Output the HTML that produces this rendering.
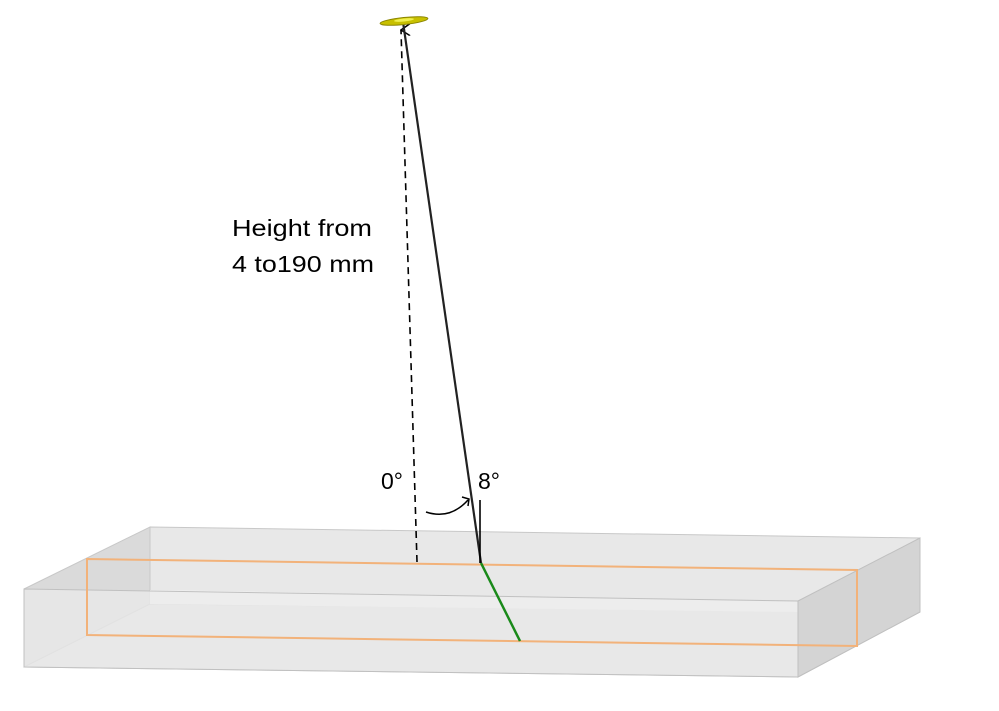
<!DOCTYPE html>
<html><head><style>body{margin:0;background:#fff;width:999px;height:711px;overflow:hidden}svg{display:block}</style></head><body>
<svg width="999" height="711" viewBox="0 0 999 711" xmlns="http://www.w3.org/2000/svg">
<defs><marker id="ah" markerWidth="12" markerHeight="12" refX="6" refY="1" orient="auto" markerUnits="userSpaceOnUse"><path d="M0,10 L6,1 L12,10" fill="none" stroke="#000" stroke-width="1.5"/></marker></defs>
<polygon points="150,527 920,538 920,612 150,604" fill="#e8e8e8" stroke="#c8c8c8"/>
<polygon points="24,589 150,527 150,604 24,667" fill="#dadada" stroke="#c8c8c8"/>
<polygon points="24,667 150,604 920,612 798,677" fill="#e4e4e4" stroke="#c8c8c8"/>
<polygon points="150,590 798,601 798,612 150,604" fill="#f6f6f6"/>
<polygon points="24,589 798,601 798,677 24,667" fill="#e9e9e9" fill-opacity="0.75" stroke="#c0c0c0"/>
<polygon points="798,601 920,538 920,612 798,677" fill="#d4d4d4" stroke="#c0c0c0"/>
<polygon points="87,559 857,570 857,646 87,635" fill="none" stroke="#f2b27a" stroke-width="2"/>
<line x1="481" y1="563" x2="520" y2="641" stroke="#1a8a1a" stroke-width="2.5"/>
<line x1="417" y1="562" x2="401" y2="30" stroke="#000" stroke-width="1.6" stroke-dasharray="7,5" marker-end="url(#ah)"/>
<line x1="481" y1="563" x2="403" y2="22" stroke="#222" stroke-width="2.2"/>
<line x1="480" y1="500" x2="480" y2="563" stroke="#000" stroke-width="1.6"/>
<path d="M426,512 Q450,520 468,500" fill="none" stroke="#000" stroke-width="1.5"/>
<path d="M462,497 L469,499 L468,506" fill="none" stroke="#000" stroke-width="1.5"/>
<ellipse cx="404" cy="21" rx="24" ry="3.5" transform="rotate(-6 404 21)" fill="#c8c000" stroke="#8a8400"/>
<ellipse cx="404" cy="20" rx="10" ry="1.5" transform="rotate(-6 404 20)" fill="#f0f050"/>
<g font-family="Liberation Sans, sans-serif" font-size="23" fill="#000">
<text x="232" y="236" textLength="140" lengthAdjust="spacingAndGlyphs">Height from</text>
<text x="232" y="272" textLength="142" lengthAdjust="spacingAndGlyphs">4 to190 mm</text>
<text x="381" y="489">0°</text>
<text x="478" y="489">8°</text>
</g>
</svg>
</body></html>
